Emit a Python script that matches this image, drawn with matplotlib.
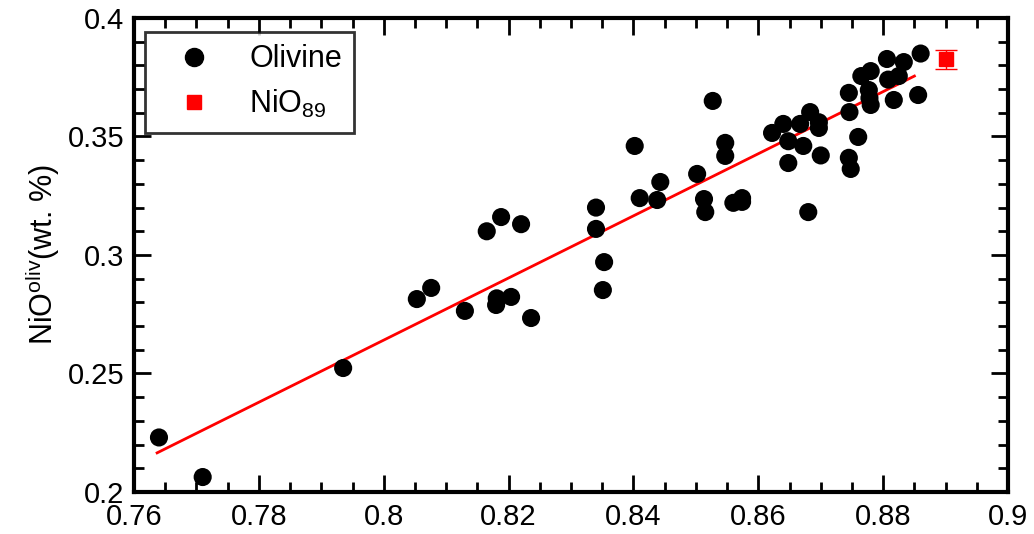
import matplotlib
matplotlib.use("Agg")
import numpy as np
import matplotlib.pyplot as plt
from matplotlib.ticker import MultipleLocator
from matplotlib.lines import Line2D

plt.rcParams['font.family'] = ['Liberation Sans', 'DejaVu Sans']

# olivine Fo content vs NiO (wt. %)
fo = [0.764, 0.771, 0.7935, 0.8053, 0.8076, 0.813, 0.8165, 0.8188, 0.8180, 0.8181,
      0.8204, 0.822, 0.8236, 0.834, 0.834, 0.8353, 0.8351, 0.8402, 0.841, 0.8438,
      0.8443, 0.8502, 0.8513, 0.8515, 0.8527, 0.8547, 0.8547, 0.856, 0.8574, 0.8574,
      0.8622, 0.864, 0.8648, 0.8648, 0.8667, 0.8672, 0.8683, 0.868, 0.8697, 0.8697,
      0.870, 0.8745, 0.8746, 0.8745, 0.8748, 0.8765, 0.876, 0.8777, 0.8778, 0.878,
      0.878, 0.8806, 0.8808, 0.8817, 0.8825, 0.8833, 0.886, 0.8856]
nio = [0.223, 0.2063, 0.2523, 0.2814, 0.2861, 0.2764, 0.310, 0.316, 0.2789, 0.2817,
       0.2823, 0.313, 0.2734, 0.320, 0.311, 0.297, 0.2852, 0.346, 0.324, 0.3232,
       0.3308, 0.3342, 0.3236, 0.3181, 0.365, 0.3473, 0.3418, 0.322, 0.324, 0.3224,
       0.3515, 0.3553, 0.348, 0.3388, 0.3553, 0.346, 0.3603, 0.3181, 0.356, 0.3536,
       0.342, 0.3684, 0.3603, 0.341, 0.3363, 0.3755, 0.3498, 0.3696, 0.3662, 0.3633,
       0.3776, 0.3827, 0.374, 0.3654, 0.3755, 0.3814, 0.385, 0.3675]

# fitted trend
fit_x = [0.7637, 0.885]
fit_y = [0.2165, 0.3755]

# NiO at Fo89
nio89_x = [0.89]
nio89_y = [0.3825]
nio89_err = [0.0042]

fig = plt.figure(figsize=(10.34, 5.34), dpi=100)
ax = fig.add_axes([0.1296, 0.0787, 0.8453, 0.8876])

ax.scatter(fo, nio, s=170, c='black', edgecolors='none', zorder=3)
ax.plot(fit_x, fit_y, color='red', lw=2, zorder=2)
ax.errorbar(nio89_x, nio89_y, yerr=nio89_err, fmt='s', color='red', ms=10,
            capsize=8, elinewidth=1, capthick=1, zorder=4)

ax.set_xlim(0.76, 0.9)
ax.set_ylim(0.2, 0.4)
ax.xaxis.set_minor_locator(MultipleLocator(0.005))
ax.yaxis.set_minor_locator(MultipleLocator(0.01))
ax.set_xticks(np.arange(0.76, 0.901, 0.02))
ax.set_xticklabels(['0.76', '0.78', '0.8', '0.82', '0.84', '0.86', '0.88', '0.9'])
ax.set_yticks(np.arange(0.2, 0.401, 0.05))
ax.set_yticklabels(['0.2', '0.25', '0.3', '0.35', '0.4'])

ax.tick_params(which='both', direction='in', top=True, right=True, width=2)
ax.tick_params(which='major', length=12, labelsize=21)
ax.tick_params(which='minor', length=7)
ax.tick_params(axis='x', pad=8)
ax.tick_params(axis='y', pad=7)
for sp in ax.spines.values():
    sp.set_linewidth(3)

ax.set_ylabel('NiO$^{\\mathregular{oliv}}$(wt. %)', fontsize=22, labelpad=4)

handles = [Line2D([], [], ls='none', marker='o', color='black', ms=13),
           Line2D([], [], ls='none', marker='s', color='red', ms=10)]
leg = ax.legend(handles, ['Olivine', 'NiO$_{\\mathregular{89}}$'], loc='upper left',
                fontsize=22, frameon=True, fancybox=False, edgecolor='black',
                borderpad=0.4, handlelength=2.4, handletextpad=0.6, labelspacing=0.45,
                bbox_to_anchor=(0.013, 0.97), borderaxespad=0)
leg.get_frame().set_linewidth(2)

fig.savefig('out.png', dpi=100)
